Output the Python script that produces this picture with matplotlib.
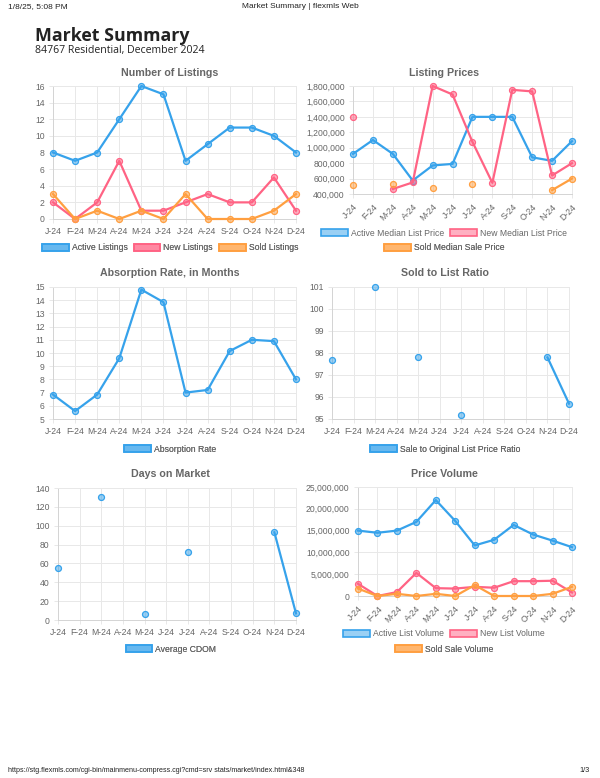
import numpy as np
import matplotlib.pyplot as plt
from matplotlib.patches import Patch
from matplotlib.ticker import FuncFormatter, MultipleLocator

plt.rcParams['font.family'] = ['Liberation Sans', 'DejaVu Sans']

W, H = 600, 778
nan = np.nan

months = ['J-24', 'F-24', 'M-24', 'A-24', 'M-24', 'J-24',
          'J-24', 'A-24', 'S-24', 'O-24', 'N-24', 'D-24']

# number of listings
active_listings = [8, 7, 8, 12, 16, 15, 7, 9, 11, 11, 10, 8]
new_listings = [2, 0, 2, 7, 1, 1, 2, 3, 2, 2, 5, 1]
sold_listings = [3, 0, 1, 0, 1, 0, 3, 0, 0, 0, 1, 3]

# listing prices
active_median = [920000, 1100000, 920000, 575000, 770000, 790000,
                 1400000, 1400000, 1400000, 875000, 830000, 1085000]
new_median = [1400000, nan, 465000, 550000, 1800000, 1690000,
              1075000, 545000, 1750000, 1730000, 640000, 800000]
sold_median = [515000, nan, 530000, nan, 475000, nan,
               535000, nan, nan, nan, 450000, 600000]

# absorption rate
absorption = [6.85, 5.6, 6.85, 9.6, 14.8, 13.85, 7.0, 7.2, 10.15, 11.0, 10.9, 8.0]

# sold to list ratio
sale_ratio = [97.7, nan, 101.0, nan, 97.8, nan, 95.2, nan, nan, nan, 97.8, 95.7]

# days on market
cdom = [55, nan, 130, nan, 6, nan, 72, nan, nan, nan, 93, 7]

# price volume
active_volume = [15000000, 14500000, 15000000, 17000000, 22000000, 17200000,
                 11600000, 12900000, 16300000, 14100000, 12700000, 11200000]
new_volume = [2800000, 0, 900000, 5300000, 1800000, 1700000,
              2100000, 1900000, 3400000, 3400000, 3500000, 800000]
sold_volume = [1700000, 0, 500000, 0, 500000, 0,
               2500000, 0, 0, 0, 500000, 2100000]

BLUE = (54 / 255, 162 / 255, 235 / 255)
PINK = (255 / 255, 99 / 255, 132 / 255)
ORANGE = (255 / 255, 159 / 255, 64 / 255)
GREY = '#666666'
GRID = '#e8e8e8'

fig = plt.figure(figsize=(6, 7.78), dpi=100)


def px_axes(left, top, right, bottom):
    return fig.add_axes([left / W, 1 - bottom / H, (right - left) / W, (bottom - top) / H])


def style(ax, ylim, step, rotate=False, commas=False):
    ax.set_xlim(0, 11)
    ax.set_ylim(*ylim)
    ax.set_xticks(range(12))
    ax.set_xticklabels(months)
    ax.yaxis.set_major_locator(MultipleLocator(step))
    if commas:
        ax.yaxis.set_major_formatter(FuncFormatter(lambda v, p: '{:,.0f}'.format(v)))
    ax.grid(True, color=GRID, lw=0.7)
    ax.set_axisbelow(True)
    for side, s in ax.spines.items():
        s.set_color('#d4d4d4' if side in ('left', 'bottom') else GRID)
        s.set_linewidth(0.7)
    ax.tick_params(colors=GRID, labelcolor=GREY, labelsize=6.2, length=3, width=0.7, pad=3)
    if rotate:
        for lab in ax.get_xticklabels():
            lab.set_rotation(45)
            lab.set_ha('right')
            lab.set_rotation_mode('anchor')


def series(ax, vals, color):
    ax.plot(range(12), vals, color=color, lw=1.6, marker='o', ms=4.3,
            mfc=(*color, 0.5), mec=color, mew=0.9, clip_on=False, zorder=3)


def legend_row(ax, items, cx, cy):
    handles = [Patch(facecolor=(*c, 0.5), edgecolor=c, lw=1.2) for _, c in items]
    leg = ax.legend(handles, [name for name, _ in items], loc='center',
                    bbox_to_anchor=(cx / W, 1 - cy / H), bbox_transform=fig.transFigure,
                    ncol=len(items), frameon=False, fontsize=6.2, handlelength=3.1,
                    handleheight=0.95, handletextpad=0.35, columnspacing=0.7,
                    borderpad=0, labelcolor=GREY)
    ax.add_artist(leg)


def title(text, cx, cy):
    fig.text(cx / W, 1 - cy / H, text, ha='center', va='center',
             fontsize=7.7, weight='bold', color=GREY)


# page header / footer
fig.text(8 / W, 1 - 7 / H, '1/8/25, 5:08 PM', fontsize=6, va='center', color='#222222')
fig.text(300 / W, 1 - 7 / H, 'Market Summary | flexmls Web', fontsize=6, ha='center',
         va='center', color='#222222')
fig.text(8 / W, 1 - 770 / H,
         'https://stg.flexmls.com/cgi-bin/mainmenu-compress.cgi?cmd=srv stats/market/index.html&348',
         fontsize=5.1, va='center', color='#222222')
fig.text(590 / W, 1 - 770 / H, '1/3', fontsize=5.3, ha='right', va='center', color='#222222')

fig.text(35 / W, 1 - 36 / H, 'Market Summary', fontsize=12.8, weight='bold',
         family=['Open Sans', 'DejaVu Sans'], color='#222222', va='center')
fig.text(35 / W, 1 - 51 / H, '84767 Residential, December 2024', fontsize=7.6,
         family=['Open Sans', 'DejaVu Sans'], color='#222222', va='center')

# Number of Listings
ax1 = px_axes(53, 86, 296, 219)
style(ax1, (0, 16), 2)
series(ax1, active_listings, BLUE)
series(ax1, new_listings, PINK)
series(ax1, sold_listings, ORANGE)
title('Number of Listings', 170, 73)
legend_row(ax1, [('Active Listings', BLUE), ('New Listings', PINK), ('Sold Listings', ORANGE)], 170, 248)

# Listing Prices
ax2 = px_axes(353, 86, 572, 194)
style(ax2, (400000, 1800000), 200000, rotate=True, commas=True)
series(ax2, active_median, BLUE)
series(ax2, new_median, PINK)
series(ax2, sold_median, ORANGE)
title('Listing Prices', 444, 73)
legend_row(ax2, [('Active Median List Price', BLUE), ('New Median List Price', PINK)], 444, 233)
legend_row(ax2, [('Sold Median Sale Price', ORANGE)], 444, 248)

# Absorption Rate
ax3 = px_axes(53, 287, 296, 419)
style(ax3, (5, 15), 1)
series(ax3, absorption, BLUE)
title('Absorption Rate, in Months', 170, 273)
legend_row(ax3, [('Absorption Rate', BLUE)], 170, 449)

# Sold to List Ratio
ax4 = px_axes(332, 287, 569, 419)
style(ax4, (95, 101), 1)
series(ax4, sale_ratio, BLUE)
title('Sold to List Ratio', 445, 273)
legend_row(ax4, [('Sale to Original List Price Ratio', BLUE)], 445, 449)

# Days on Market
ax5 = px_axes(58, 488, 296, 620)
style(ax5, (0, 140), 20)
series(ax5, cdom, BLUE)
title('Days on Market', 171, 474)
legend_row(ax5, [('Average CDOM', BLUE)], 171, 649)

# Price Volume
ax6 = px_axes(358, 487, 572, 596)
style(ax6, (0, 25000000), 5000000, rotate=True, commas=True)
series(ax6, active_volume, BLUE)
series(ax6, new_volume, PINK)
series(ax6, sold_volume, ORANGE)
title('Price Volume', 444, 474)
legend_row(ax6, [('Active List Volume', BLUE), ('New List Volume', PINK)], 444, 634)
legend_row(ax6, [('Sold Sale Volume', ORANGE)], 444, 649)

fig.savefig('out.png', dpi=100)
